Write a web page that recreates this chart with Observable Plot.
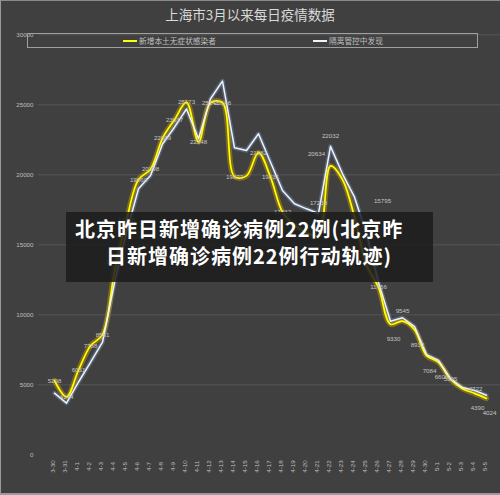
<!DOCTYPE html>
<html><head><meta charset="utf-8">
<script src="https://cdn.jsdelivr.net/npm/d3@7"></script>
<script src="https://cdn.jsdelivr.net/npm/@observablehq/plot@0.6"></script>
<style>
html,body{margin:0;padding:0;background:#404040;}
#wrap{position:relative;width:500px;height:495px;background:#404040;overflow:hidden;font-family:"Noto Sans CJK SC","Noto Sans",sans-serif;}
#wrap svg{position:absolute;left:0;top:0;}
#title{position:absolute;left:0;top:4px;width:500px;text-align:center;font-size:13.5px;color:#d9d9d9;line-height:20px;}
#legend{position:absolute;left:27px;top:33px;width:449px;height:13px;border:1px solid #a0a0a0;}
.lg{position:absolute;top:0;height:13px;font-size:7.7px;line-height:13px;color:#bfbfbf;white-space:nowrap;}
.sw{display:inline-block;width:14px;height:2px;vertical-align:middle;margin-right:2px;position:relative;top:-1px;}
#banner{position:absolute;left:66px;top:212px;width:367px;height:70px;background:rgba(28,28,28,0.86);}
.bl{position:absolute;color:#fff;font-weight:bold;font-size:20px;letter-spacing:1px;line-height:24px;white-space:nowrap;}
#frame{position:absolute;left:0;top:0;width:499px;height:492px;border-left:1px solid #9a9a9a;border-top:1px solid #8a8a8a;border-bottom:2px solid #9a9a9a;}
</style></head>
<body>
<div id="wrap">
  <div id="title">上海市3月以来每日疫情数据</div>
  <div id="legend"></div>
  <div id="banner"></div>
  <div id="frame"></div>
</div>
<script>
const dates = ["3-30","3-31","4-1","4-2","4-3","4-4","4-5","4-6","4-7","4-8","4-9","4-10","4-11","4-12","4-13","4-14","4-15","4-16","4-17","4-18","4-19","4-20","4-21","4-22","4-23","4-24","4-25","4-26","4-27","4-28","4-29","4-30","5-1","5-2","5-3","5-4","5-5"];
const seriesNames = ["新增本土无症状感染者","隔离管控中发现"];
const asymptomatic = [5298,4144,6051,7788,8581,13086,16766,19660,20398,22609,23937,25173,22348,25141,25146,19872,19923,21582,19831,17332,16407,15861,15698,20634,19657,16983,13562,11956,9330,9545,8932,7084,6606,5395,4722,4390,4024];
const quarantined = [4400,3690,5200,6600,8040,12300,15900,19000,19950,22200,23400,24700,22570,25430,26690,21930,21740,22930,20900,18880,17930,17570,17238,22032,20070,18400,15795,12300,9540,9790,9160,7160,6740,5430,4800,4600,4250];
const yTicks = [0,5000,10000,15000,20000,25000,30000];

// data labels, grouped by where they sit relative to their point
const lblCenterDates = ["3-30","3-31","4-1","4-2","4-3","4-5","4-6","4-7","4-8","4-9","4-10","4-11","4-12","4-13","4-14","4-16","4-17","4-18","4-26","5-2"];
const lblCenterValues = [5298,4144,6051,7788,8581,16766,19660,20398,22609,23937,25173,22348,25141,25146,19872,21582,19831,17332,11956,5395];
const lblAboveDates = ["4-4","4-21","4-22","4-28"];
const lblAboveValues = [13086,17238,22032,9545];
const lblBelowDates = ["4-27","4-29","4-30","5-1","5-4","5-5"];
const lblBelowValues = [9330,8932,7084,6606,4390,4024];
const lblLeftDates = ["4-22"];
const lblLeftValues = [20634];
const lblRightDates = ["5-3"];
const lblRightValues = [4722];
const lblFarDates = ["4-25"];
const lblFarValues = [15795];

const data = dates.map((d,i)=>({date:d, a:asymptomatic[i], q:quarantined[i]}));
const mk = (ds,vs)=>ds.map((d,i)=>({date:d, v:vs[i]}));
const lblFont = {fontSize:6.2, fill:"#c4c4c4", fontFamily:"Liberation Sans, Arial, sans-serif"};

const chart = Plot.plot({
  width:500, height:495,
  marginTop:34, marginBottom:41, marginLeft:38, marginRight:0,
  style:{background:"transparent", color:"#bfbfbf", fontFamily:"Liberation Sans, Arial, sans-serif", fontSize:"6.2px"},
  x:{type:"point", domain:dates, range:[45,494], axis:null},
  y:{type:"linear", domain:[0,30000], range:[454.3,34.3], axis:null},
  marks:[
    Plot.gridY(yTicks.filter(t=>t>0), {stroke:"#555555", strokeOpacity:1, strokeWidth:1}),
    Plot.axisY({ticks:yTicks, tickSize:0, tickPadding:5, fontSize:6.2, fill:"#bfbfbf", label:null, tickFormat:d=>String(d)}),
    Plot.text(dates, {x:d=>d, frameAnchor:"bottom", dy:12, rotate:-90, textAnchor:"middle", fontSize:6.2, fill:"#bfbfbf"}),
    // glows
    Plot.line(data, {x:"date", y:"q", stroke:"#7fa3d6", strokeWidth:4.5, strokeOpacity:0.35}),
    Plot.line(data, {x:"date", y:"a", curve:"catmull-rom", stroke:"#c9a000", strokeWidth:5.5, strokeOpacity:0.45}),
    Plot.line(data, {x:"date", y:"a", curve:"catmull-rom", stroke:"#ffff00", strokeWidth:1.7}),
    Plot.line(data, {x:"date", y:"q", stroke:"#eef3fb", strokeWidth:1.5}),
    // labels
    Plot.text(mk(lblCenterDates,lblCenterValues), {x:"date", y:"v", text:d=>String(d.v), ...lblFont}),
    Plot.text(mk(lblAboveDates,lblAboveValues), {x:"date", y:"v", text:d=>String(d.v), dy:-10, ...lblFont}),
    Plot.text(mk(lblBelowDates,lblBelowValues), {x:"date", y:"v", text:d=>String(d.v), dy:15, dx:3, ...lblFont}),
    Plot.text(mk(lblLeftDates,lblLeftValues), {x:"date", y:"v", text:d=>String(d.v), dx:-14, dy:-12, ...lblFont}),
    Plot.text(mk(lblRightDates,lblRightValues), {x:"date", y:"v", text:d=>String(d.v), dx:13, ...lblFont}),
    Plot.text(mk(lblFarDates,lblFarValues), {x:"date", y:"v", text:d=>String(d.v), dx:16, dy:-33, ...lblFont})
  ]
});
const wrap = document.getElementById("wrap");
wrap.insertBefore(chart, document.getElementById("legend"));

// legend
const legend = document.getElementById("legend");
const legendColors = ["#ffff00","#eef3fb"];
const legendLeft = [95, 285];
seriesNames.forEach((n,i)=>{
  const el = document.createElement("div");
  el.className = "lg";
  el.style.left = legendLeft[i] + "px";
  el.innerHTML = `<span class="sw" style="background:${legendColors[i]}"></span>${n}`;
  legend.appendChild(el);
});

// overlay banner
const banner = document.getElementById("banner");
const bannerLines = ["北京昨日新增确诊病例22例(北京昨","日新增确诊病例22例行动轨迹)"];
const bannerLeft = [9, 40];
const bannerTop = [5, 32];
bannerLines.forEach((t,i)=>{
  const el = document.createElement("div");
  el.className = "bl";
  el.style.left = bannerLeft[i] + "px";
  el.style.top = bannerTop[i] + "px";
  el.textContent = t;
  banner.appendChild(el);
});
</script>
</body></html>
